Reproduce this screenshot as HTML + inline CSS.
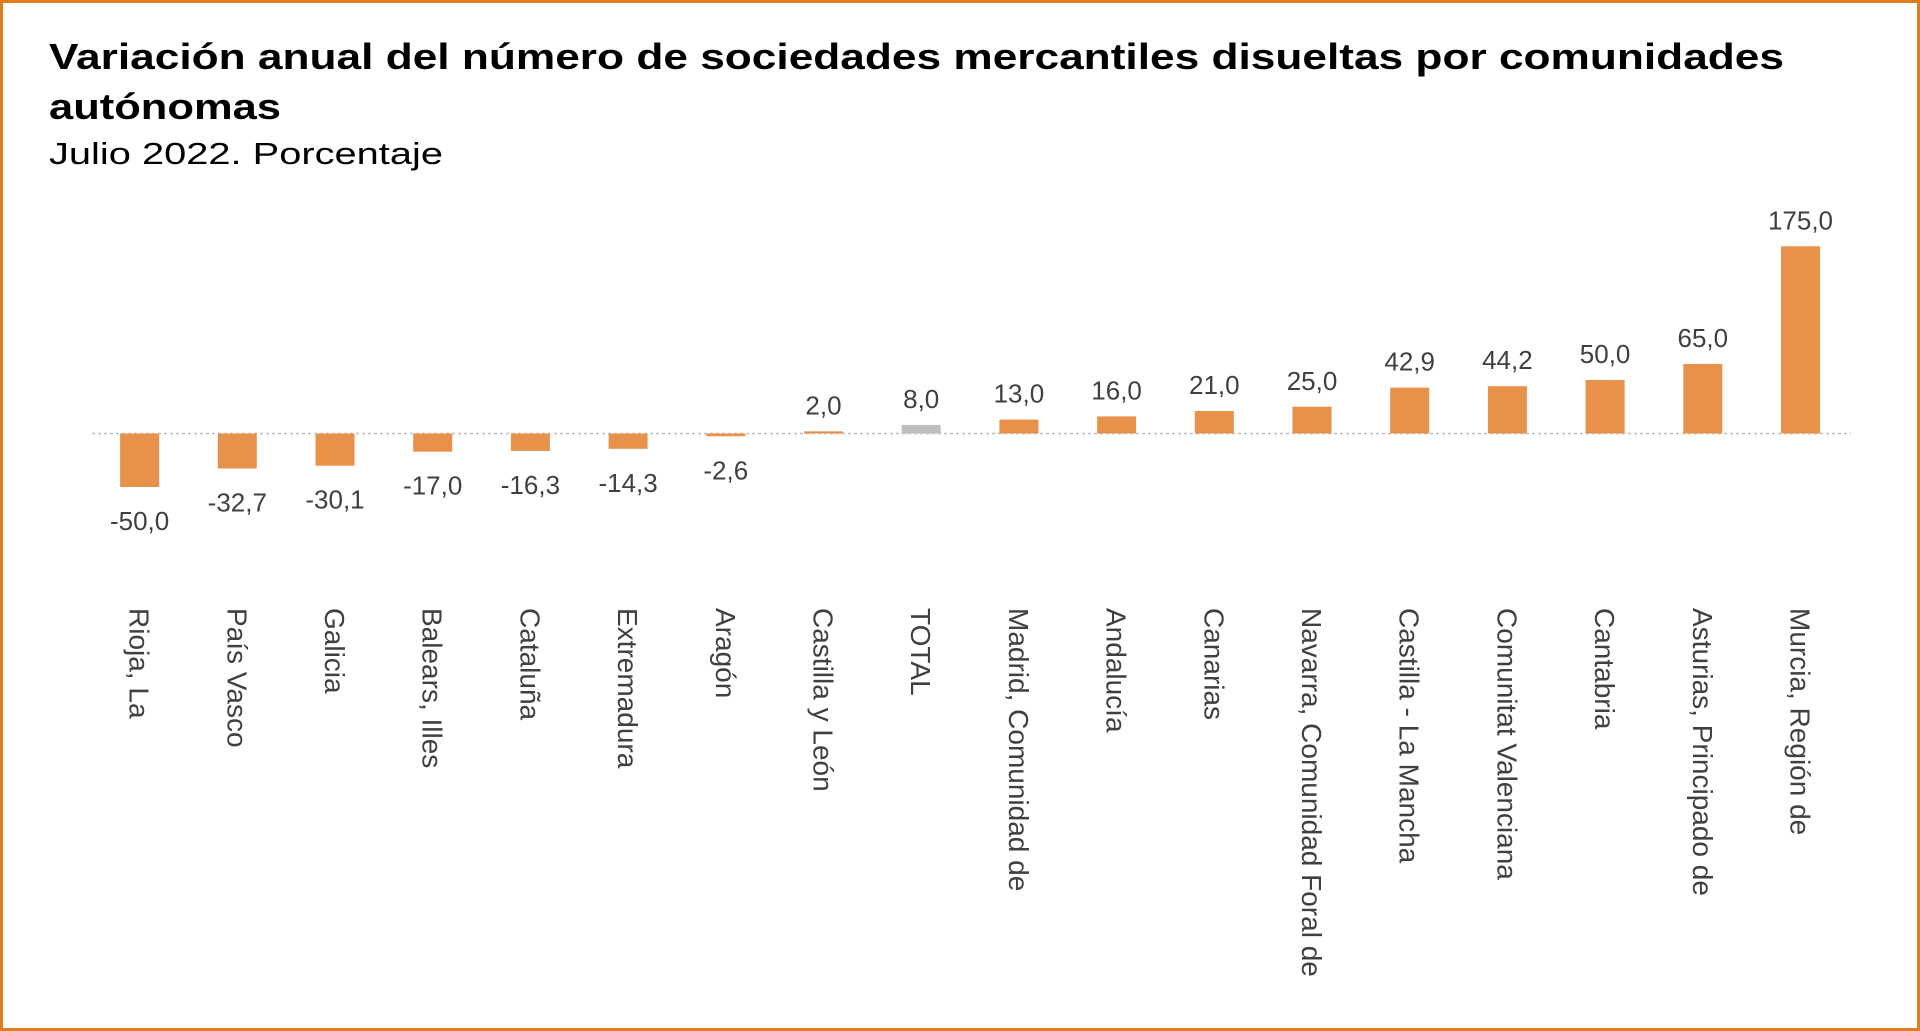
<!DOCTYPE html>
<html><head><meta charset="utf-8"><style>
html,body{margin:0;padding:0;background:#fff;}
svg{display:block;font-family:"Liberation Sans",Arial,sans-serif;}
</style></head><body>
<svg id="chart" width="1920" height="1031" viewBox="0 0 1920 1031">
<rect x="1.5" y="1.5" width="1917" height="1028" fill="#fff" stroke="#E07B20" stroke-width="3"/>
<text x="49" y="69" font-size="36" font-weight="bold" fill="#000" textLength="1735" lengthAdjust="spacingAndGlyphs">Variación anual del número de sociedades mercantiles disueltas por comunidades</text>
<text x="49" y="119" font-size="36" font-weight="bold" fill="#000" textLength="232" lengthAdjust="spacingAndGlyphs">autónomas</text>
<text x="49" y="164" font-size="31" fill="#000" textLength="394" lengthAdjust="spacingAndGlyphs">Julio 2022. Porcentaje</text>
<g id="plot"></g>
</svg>
<script>
const categories=["Rioja, La","País Vasco","Galicia","Balears, Illes","Cataluña","Extremadura","Aragón","Castilla y León","TOTAL","Madrid, Comunidad de","Andalucía","Canarias","Navarra, Comunidad Foral de","Castilla - La Mancha","Comunitat Valenciana","Cantabria","Asturias, Principado de","Murcia, Región de"];
const values=[-50.0,-32.7,-30.1,-17.0,-16.3,-14.3,-2.6,2.0,8.0,13.0,16.0,21.0,25.0,42.9,44.2,50.0,65.0,175.0];
const valueLabels=["-50,0","-32,7","-30,1","-17,0","-16,3","-14,3","-2,6","2,0","8,0","13,0","16,0","21,0","25,0","42,9","44,2","50,0","65,0","175,0"];
const NS="http://www.w3.org/2000/svg";
const g=document.getElementById('plot');
const zeroY=433.5, pxPerUnit=1.07, x0=139.6, step=97.7, barW=39;
const xPos=i=>x0+i*step;
const yPos=v=>zeroY-v*pxPerUnit;
function mk(t,a){const e=document.createElementNS(NS,t);for(const k in a)e.setAttribute(k,a[k]);g.appendChild(e);return e;}
const axis=mk('line',{x1:92,x2:1851,y1:zeroY,y2:zeroY,stroke:'#BFBFBF','stroke-width':1.5,'stroke-dasharray':'3,3'});


categories.forEach((c,i)=>{
  const v=values[i],x=xPos(i),y=yPos(v);
  const b=mk('rect',{x:x-barW/2,y:Math.min(y,zeroY),width:barW,height:Math.abs(zeroY-y),fill:c==="TOTAL"?'#BFBFBF':'#E8914A'});
  
  
  const ly=v>=0?y-17:y+43;
  const t=mk('text',{x:x,y:ly,'font-size':26,'text-anchor':'middle',fill:'#404040'});
  t.textContent=valueLabels[i];
  
  
  const cl=mk('text',{x:0,y:0,'font-size':28,fill:'#404040',transform:`translate(${x-10},608) rotate(90)`});
  cl.textContent=c;
  
  
});
</script>
</body></html>
